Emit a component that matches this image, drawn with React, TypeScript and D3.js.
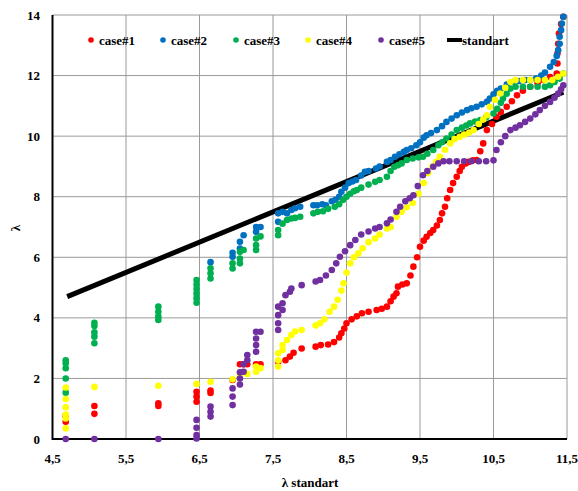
import React from 'react';
import * as d3 from 'd3';

// tick values
const xTicks = [4.5, 5.5, 6.5, 7.5, 8.5, 9.5, 10.5, 11.5];
const yTicks = [0, 2, 4, 6, 8, 10, 12, 14];

const seriesNames = ['case#1', 'case#2', 'case#3', 'case#4', 'case#5'];
const seriesColors = ['#ff0000', '#0070c0', '#00b050', '#ffff00', '#7030a0'];

// [λ standart, λ]
const case1Points = [
  [4.68, 0.76], [4.68, 0.57], [5.07, 1.09], [5.07, 0.83], [5.94, 1.18], [5.94, 1.09],
  [6.46, 1.56], [6.46, 1.4], [6.46, 1.23], [6.65, 1.6], [6.65, 1.52], [6.95, 1.95],
  [7.05, 2.47], [7.1, 2.47], [7.15, 2.47], [7.27, 2.47], [7.33, 2.47], [7.57, 2.55],
  [7.67, 2.6], [7.73, 2.72], [7.78, 2.85], [7.89, 2.99], [8.08, 3.05], [8.15, 3.1],
  [8.25, 3.12], [8.33, 3.2], [8.4, 3.35], [8.43, 3.49], [8.47, 3.65], [8.5, 3.82],
  [8.57, 3.95], [8.64, 4.05], [8.71, 4.15], [8.8, 4.2], [8.91, 4.26], [8.98, 4.3],
  [9.05, 4.37], [9.1, 4.55], [9.14, 4.7], [9.18, 4.81], [9.2, 5.03], [9.26, 5.1],
  [9.32, 5.14], [9.37, 5.4], [9.41, 5.69], [9.46, 6.0], [9.5, 6.35], [9.55, 6.55],
  [9.59, 6.68], [9.64, 6.8], [9.68, 6.9], [9.73, 7.05], [9.77, 7.23], [9.8, 7.45],
  [9.84, 7.67], [9.87, 7.95], [9.91, 8.22], [9.95, 8.45], [10.0, 8.66], [10.04, 8.85],
  [10.07, 8.99], [10.12, 9.1], [10.16, 9.15], [10.22, 9.2], [10.27, 9.21], [10.32, 9.5],
  [10.36, 9.76], [10.41, 10.2], [10.48, 10.4], [10.54, 10.64], [10.6, 10.8], [10.68, 10.97],
  [10.75, 11.15], [10.82, 11.35], [10.9, 11.5], [11.0, 11.63], [11.1, 11.75], [11.18, 11.85],
  [11.27, 11.95], [11.36, 12.07], [11.37, 12.4], [11.37, 12.73], [11.38, 13.05], [11.39, 13.39],
  [11.42, 13.7], [11.45, 13.94],
];

const case2Points = [
  [6.65, 5.84], [6.95, 6.15], [6.95, 6.02], [7.05, 6.51], [7.05, 6.29], [7.1, 6.73],
  [7.27, 7.0], [7.27, 6.84], [7.33, 7.0], [7.57, 7.17], [7.57, 7.45], [7.63, 7.5],
  [7.69, 7.45], [7.75, 7.56], [7.8, 7.62], [7.87, 7.67], [8.05, 7.72], [8.1, 7.72],
  [8.17, 7.75], [8.22, 7.72], [8.3, 7.85], [8.35, 7.9], [8.4, 8.0], [8.43, 8.16],
  [8.48, 8.3], [8.53, 8.45], [8.58, 8.5], [8.63, 8.55], [8.7, 8.7], [8.75, 8.82],
  [8.8, 8.85], [8.9, 8.93], [8.95, 9.0], [9.05, 9.15], [9.1, 9.21], [9.16, 9.32],
  [9.22, 9.4], [9.28, 9.48], [9.32, 9.54], [9.38, 9.6], [9.45, 9.7], [9.5, 9.8],
  [9.55, 9.95], [9.59, 10.03], [9.65, 10.1], [9.73, 10.2], [9.8, 10.33], [9.86, 10.47],
  [9.93, 10.58], [10.0, 10.69], [10.07, 10.78], [10.14, 10.86], [10.2, 10.92], [10.27, 10.97],
  [10.34, 11.05], [10.41, 11.13], [10.45, 11.24], [10.5, 11.38], [10.55, 11.5], [10.6, 11.57],
  [10.68, 11.7], [10.77, 11.79], [10.85, 11.82], [10.93, 11.85], [11.0, 11.85], [11.08, 11.9],
  [11.15, 12.0], [11.2, 12.1], [11.27, 12.29], [11.32, 12.45], [11.36, 12.65], [11.38, 12.84],
  [11.4, 13.05], [11.4, 13.28], [11.42, 13.5], [11.43, 13.72], [11.45, 13.94],
];

const case3Points = [
  [4.68, 2.6], [4.68, 2.5], [4.68, 2.34], [4.68, 2.0], [4.68, 1.53], [5.07, 3.84],
  [5.07, 3.73], [5.07, 3.52], [5.07, 3.38], [5.07, 3.16], [5.94, 4.37], [5.94, 4.2],
  [5.94, 4.04], [5.94, 3.93], [6.46, 5.25], [6.46, 5.1], [6.46, 4.95], [6.46, 4.8],
  [6.46, 4.65], [6.46, 4.5], [6.65, 5.64], [6.65, 5.47], [6.65, 5.3], [6.95, 5.8],
  [6.95, 5.63], [7.05, 6.18], [7.05, 5.96], [7.05, 5.8], [7.1, 6.24], [7.27, 6.62],
  [7.27, 6.4], [7.27, 6.24], [7.33, 6.69], [7.57, 6.9], [7.57, 6.73], [7.63, 7.11],
  [7.69, 7.23], [7.75, 7.28], [7.8, 7.3], [7.87, 7.34], [8.05, 7.45], [8.11, 7.5],
  [8.18, 7.52], [8.25, 7.6], [8.34, 7.67], [8.4, 7.75], [8.45, 7.89], [8.5, 8.0],
  [8.55, 8.1], [8.6, 8.18], [8.64, 8.22], [8.7, 8.3], [8.8, 8.4], [8.89, 8.49],
  [8.95, 8.55], [9.05, 8.66], [9.1, 8.85], [9.15, 8.99], [9.2, 9.04], [9.25, 9.1],
  [9.32, 9.21], [9.4, 9.26], [9.48, 9.3], [9.54, 9.32], [9.6, 9.42], [9.68, 9.54],
  [9.75, 9.7], [9.8, 9.8], [9.86, 9.92], [9.93, 10.05], [10.0, 10.2], [10.07, 10.28],
  [10.13, 10.35], [10.18, 10.42], [10.25, 10.48], [10.32, 10.53], [10.4, 10.62], [10.5, 10.75],
  [10.55, 10.9], [10.6, 11.1], [10.63, 11.24], [10.68, 11.4], [10.73, 11.57], [10.8, 11.63],
  [10.9, 11.63], [11.0, 11.63], [11.1, 11.63], [11.2, 11.63], [11.27, 11.68], [11.33, 11.79],
  [11.4, 11.9], [11.45, 12.07],
];

const case4Points = [
  [4.68, 1.7], [4.68, 1.32], [4.68, 1.05], [4.68, 0.81], [4.68, 0.68], [4.68, 0.35],
  [5.07, 1.72], [5.94, 1.76], [6.46, 1.82], [6.65, 1.89], [6.95, 1.97], [7.05, 2.08],
  [7.15, 2.15], [7.27, 2.39], [7.27, 2.22], [7.33, 2.34], [7.57, 2.83], [7.57, 2.6],
  [7.57, 2.39], [7.63, 3.1], [7.63, 2.94], [7.69, 3.27], [7.75, 3.43], [7.8, 3.55],
  [7.89, 3.6], [8.08, 3.75], [8.14, 3.82], [8.2, 3.95], [8.27, 4.2], [8.33, 4.37],
  [8.38, 4.6], [8.43, 4.9], [8.46, 5.14], [8.5, 5.5], [8.55, 5.8], [8.6, 6.0],
  [8.66, 6.13], [8.72, 6.3], [8.8, 6.5], [8.89, 6.62], [8.95, 6.75], [9.05, 6.95],
  [9.1, 7.0], [9.18, 7.34], [9.25, 7.5], [9.32, 7.65], [9.4, 7.79], [9.48, 8.1],
  [9.55, 8.45], [9.61, 8.78], [9.67, 9.0], [9.72, 9.15], [9.77, 9.32], [9.84, 9.55],
  [9.91, 9.76], [9.97, 9.9], [10.04, 9.98], [10.1, 10.05], [10.17, 10.12], [10.23, 10.2],
  [10.3, 10.4], [10.36, 10.55], [10.41, 10.69], [10.45, 10.97], [10.52, 11.2], [10.59, 11.41],
  [10.66, 11.6], [10.73, 11.79], [10.8, 11.85], [10.9, 11.85], [11.0, 11.85], [11.1, 11.85],
  [11.2, 11.85], [11.3, 11.85], [11.38, 11.96], [11.45, 12.07],
];

const case5Points = [
  [4.68, 0], [5.07, 0], [5.94, 0], [6.46, 0.63], [6.46, 0.37], [6.46, 0.13],
  [6.46, 0.02], [6.65, 1.07], [6.65, 0.9], [6.65, 0.74], [6.95, 1.67], [6.95, 1.4],
  [6.95, 1.12], [7.05, 2.2], [7.05, 2.0], [7.05, 1.8], [7.1, 2.47], [7.1, 2.22],
  [7.15, 2.77], [7.15, 2.6], [7.27, 3.54], [7.27, 3.32], [7.27, 3.1], [7.27, 2.88],
  [7.33, 3.54], [7.57, 4.37], [7.57, 4.09], [7.57, 3.82], [7.57, 3.6], [7.63, 4.48],
  [7.63, 4.26], [7.67, 4.75], [7.73, 4.86], [7.75, 4.97], [7.89, 5.08], [8.08, 5.2],
  [8.14, 5.25], [8.22, 5.4], [8.3, 5.58], [8.36, 5.8], [8.41, 6.02], [8.48, 6.2],
  [8.55, 6.4], [8.62, 6.57], [8.7, 6.75], [8.8, 6.85], [8.89, 6.95], [8.95, 7.0],
  [9.05, 7.12], [9.1, 7.25], [9.18, 7.5], [9.23, 7.67], [9.3, 7.85], [9.36, 7.95],
  [9.41, 8.05], [9.47, 8.35], [9.54, 8.71], [9.6, 8.85], [9.68, 8.99], [9.75, 9.1],
  [9.82, 9.17], [9.9, 9.17], [10.0, 9.17], [10.1, 9.17], [10.2, 9.17], [10.3, 9.17],
  [10.4, 9.17], [10.5, 9.2], [10.54, 9.54], [10.6, 9.8], [10.66, 10.0], [10.73, 10.2],
  [10.8, 10.28], [10.86, 10.36], [10.93, 10.47], [11.0, 10.58], [11.07, 10.72], [11.13, 10.86],
  [11.2, 11.0], [11.27, 11.13], [11.33, 11.27], [11.38, 11.41], [11.42, 11.55], [11.45, 11.68],
];

const standartPoints = [[4.7, 4.7], [11.45, 11.45]];

const allSeries = [case1Points, case2Points, case3Points, case4Points, case5Points];

const W = 578;
const H = 491;
const FONT = "'Liberation Serif', 'Times New Roman', serif";

export default function App() {
  const x = d3.scaleLinear().domain([4.5, 11.5]).range([52.5, 567]);
  const y = d3.scaleLinear().domain([0, 14]).range([439, 15]);

  const line = d3
    .line<number[]>()
    .x((d) => x(d[0]))
    .y((d) => y(d[1]));

  const fmt = (v: number) => String(v).replace('.', ',');

  // legend layout
  const legendY = 40;
  const legendX = [91, 163, 236, 308, 381];
  const txt = { fontFamily: FONT, fontWeight: 700, fontSize: 13 };

  return (
    <svg
      width={W}
      height={H}
      style={{ position: 'absolute', left: 0, top: 0, background: '#fff', fontFamily: FONT }}
    >
      {/* grid */}
      {xTicks.map((t) => (
        <line key={'gx' + t} x1={x(t)} x2={x(t)} y1={y(14)} y2={y(0)} stroke="#9a9a9a" strokeWidth={1} />
      ))}
      {yTicks.map((t) => (
        <line key={'gy' + t} x1={x(4.5)} x2={x(11.5)} y1={y(t)} y2={y(t)} stroke="#9a9a9a" strokeWidth={1} />
      ))}

      {/* axes */}
      <line x1={x(4.5)} x2={x(4.5)} y1={y(14)} y2={y(0) + 1} stroke="#000" strokeWidth={2} />
      <line x1={x(4.5)} x2={x(11.5)} y1={y(0)} y2={y(0)} stroke="#000" strokeWidth={2} />

      {/* tick labels */}
      {yTicks.map((t) => (
        <text key={'ty' + t} x={40} y={y(t)} dy="0.35em" textAnchor="end" style={txt}>
          {t}
        </text>
      ))}
      {xTicks.map((t) => (
        <text key={'tx' + t} x={x(t)} y={463} textAnchor="middle" style={txt}>
          {fmt(t)}
        </text>
      ))}

      {/* axis titles */}
      <text x={310} y={487} textAnchor="middle" style={txt}>
        λ standart
      </text>
      <text transform={`translate(20,228) rotate(-90)`} textAnchor="middle" style={txt}>
        λ
      </text>

      {/* standart line */}
      <path d={line(standartPoints) || ''} fill="none" stroke="#000" strokeWidth={5} />

      {/* scatter series */}
      {allSeries.map((pts, i) => (
        <g key={'s' + i} fill={seriesColors[i]}>
          {pts.map((p, j) => (
            <circle key={j} cx={x(p[0])} cy={y(p[1])} r={3.3} />
          ))}
        </g>
      ))}

      {/* legend */}
      {seriesNames.map((name, i) => (
        <g key={'lg' + i}>
          <circle cx={legendX[i]} cy={legendY} r={2.8} fill={seriesColors[i]} />
          <text x={legendX[i] + 8} y={legendY} dy="0.35em" style={txt}>
            {name}
          </text>
        </g>
      ))}
      <line x1={447} x2={462} y1={legendY} y2={legendY} stroke="#000" strokeWidth={4} />
      <text x={462} y={legendY} dy="0.35em" style={txt}>
        standart
      </text>
    </svg>
  );
}
